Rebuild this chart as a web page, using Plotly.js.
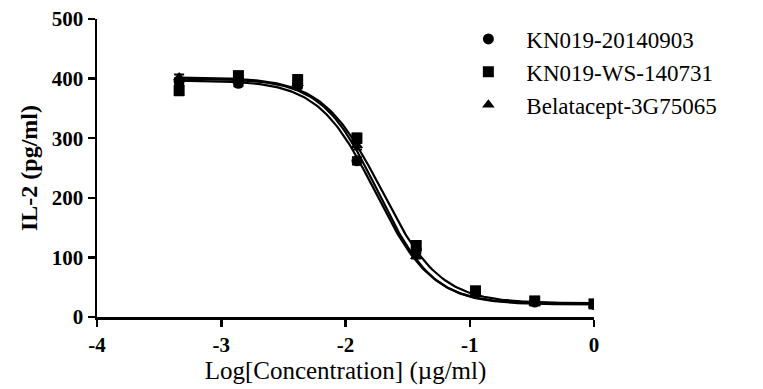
<!DOCTYPE html>
<html>
<head>
<meta charset="utf-8">
<script src="https://cdn.plot.ly/plotly-3.0.1.min.js"></script>
<style>
  html, body { margin: 0; padding: 0; background: #fff; }
  #chart { width: 763px; height: 389px; }
</style>
</head>
<body>
<div id="chart"></div>
<script>
// Log10 of the 3-fold dilution series (µg/ml)
const logConc = [-3.339, -2.862, -2.385, -1.908, -1.431, -0.954, -0.477, 0];

// IL-2 readout (pg/ml), mean and SD per sample
const seriesNames = ['KN019-20140903', 'KN019-WS-140731', 'Belatacept-3G75065'];
const symbols = ['circle', 'square', 'triangle-up'];
const il2Circle   = [395, 392, 388, 262, 112, 40, 25, 21];
const il2Square   = [380, 405, 398, 300, 120, 44, 27, 22];
const il2Triangle = [402, 398, 392, 288, 102, 38, 24, 20];
const sdCircle    = [6, 5, 4, 6, 4, 2, 2, 1];
const sdSquare    = [8, 6, 8, 8, 5, 3, 2, 2];
const sdTriangle  = [5, 4, 5, 7, 4, 2, 2, 1];

// Four-parameter logistic fit for each sample
const fitTop     = [397, 402, 400];
const fitBottom  = [22, 23, 21];
const fitLogEC50 = [-1.76, -1.71, -1.74];
const fitHill    = [1.9, 1.85, 1.95];

const means = [il2Circle, il2Square, il2Triangle];
const sds = [sdCircle, sdSquare, sdTriangle];

function logistic(x, i) {
  return fitBottom[i] + (fitTop[i] - fitBottom[i]) /
         (1 + Math.pow(10, (x - fitLogEC50[i]) * fitHill[i]));
}

const traces = [];
for (let i = 0; i < 3; i++) {
  const xs = [], ys = [];
  const x0 = logConc[0], x1 = logConc[logConc.length - 1];
  for (let k = 0; k <= 200; k++) {
    const x = x0 + (x1 - x0) * k / 200;
    xs.push(x);
    ys.push(logistic(x, i));
  }
  traces.push({
    x: xs, y: ys, mode: 'lines', type: 'scatter',
    line: { color: '#000', width: 2.2 }, showlegend: false, hoverinfo: 'skip'
  });
}
for (let i = 0; i < 3; i++) {
  traces.push({
    x: logConc, y: means[i], mode: 'markers', type: 'scatter',
    name: seriesNames[i],
    marker: { symbol: symbols[i], size: 11, color: '#000' },
    error_y: { type: 'data', array: sds[i], visible: true, color: '#000', thickness: 2, width: 5 }
  });
}

const serif = 'Liberation Serif';
const tickFont = { family: serif, size: 21, color: '#000', weight: 'bold' };

const layout = {
  width: 763, height: 389,
  margin: { l: 97, r: 169, t: 19, b: 72, pad: 0 },
  paper_bgcolor: '#fff', plot_bgcolor: '#fff',
  font: { family: serif, color: '#000' },
  showlegend: true,
  legend: {
    x: 0.711, xanchor: 'left', y: 1.005, yanchor: 'top',
    font: { family: serif, size: 23, color: '#000' },
    itemwidth: 66, tracegroupgap: 0, bgcolor: 'rgba(0,0,0,0)'
  },
  xaxis: {
    range: [-4, 0], tickvals: [-4, -3, -2, -1, 0], ticktext: ['-4', '-3', '-2', '-1', '0'],
    showline: true, linecolor: '#000', linewidth: 2.5, mirror: false,
    ticks: 'outside', ticklen: 7, tickwidth: 2.5, tickcolor: '#000',
    showgrid: false, zeroline: false, tickfont: tickFont,
    title: { text: 'Log[Concentration] (\u00b5g/ml)', standoff: 6,
             font: { family: serif, size: 25, color: '#000' } }
  },
  yaxis: {
    range: [0, 500], tickvals: [0, 100, 200, 300, 400, 500],
    showline: true, linecolor: '#000', linewidth: 2.5, mirror: false,
    ticks: 'outside', ticklen: 7, tickwidth: 2.5, tickcolor: '#000',
    showgrid: false, zeroline: false, tickfont: tickFont,
    title: { text: 'IL-2 (pg/ml)', standoff: 8,
             font: { family: serif, size: 24, color: '#000', weight: 'bold' } }
  }
};

Plotly.newPlot('chart', traces, layout, { displayModeBar: false, staticPlot: true });
</script>
</body>
</html>
